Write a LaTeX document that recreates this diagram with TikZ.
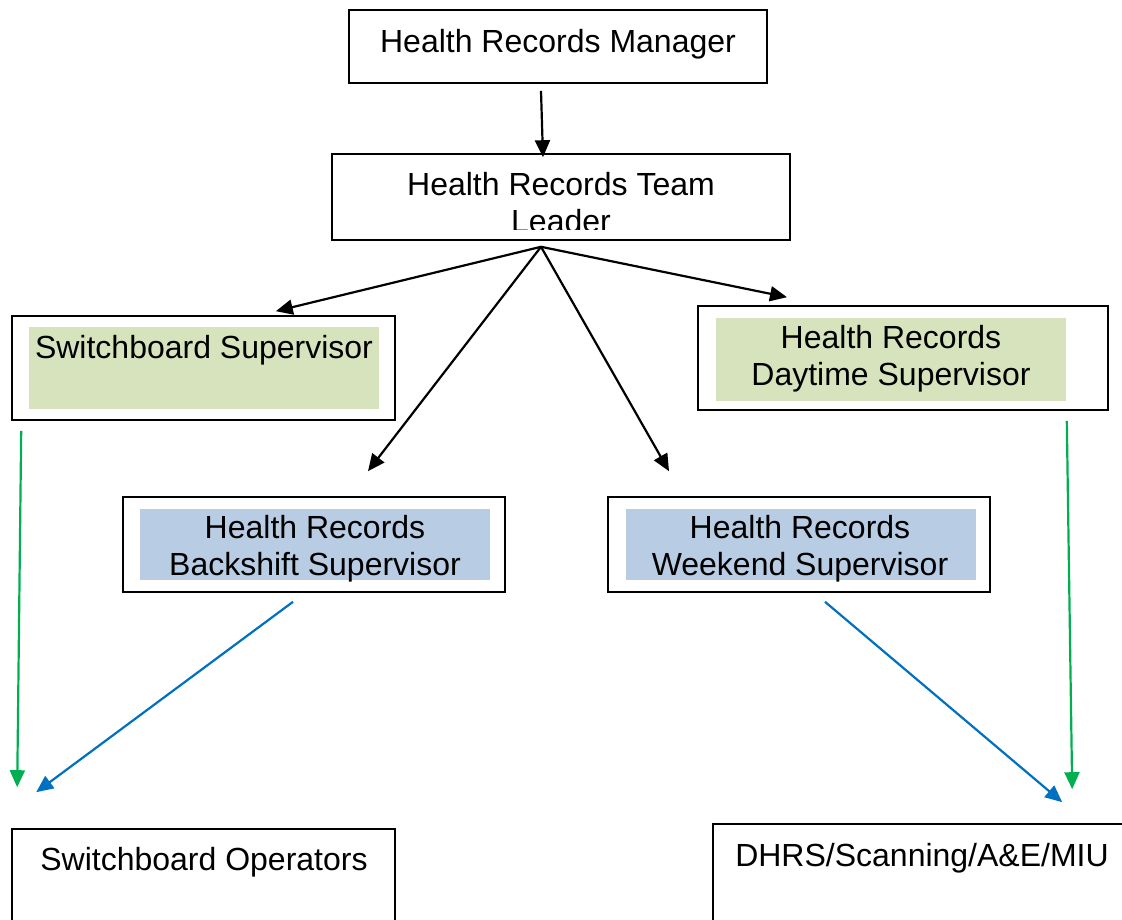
\documentclass[tikz,border=0pt]{standalone}
\usepackage{fontspec}
\setmainfont{Liberation Sans}
\usetikzlibrary{arrows.meta}
\definecolor{supgreen}{HTML}{D6E3BC}
\definecolor{supblue}{HTML}{B8CCE4}
\definecolor{lnkgreen}{HTML}{00B050}
\definecolor{lnkblue}{HTML}{0070C0}

\begin{document}
\begin{tikzpicture}[x=1pt, y=-1pt,
        box/.style={draw, line width=1.6pt, inner sep=0pt},
        txt/.style={font=\fontsize{32}{37}\selectfont, align=center, inner sep=0pt},
        arr/.style={line width=2.2pt, -{Triangle[length=17pt,width=15pt]}}]
        \clip (0,0) rectangle (1122,920);

        % boxes
        \node[box, minimum width=418pt, minimum height=73pt] (mgr) at (558,46.5) {};
        \node[box, minimum width=458pt, minimum height=86pt] (lead) at (561,197) {};
        \node[box, minimum width=383pt, minimum height=104pt] (swsup) at (203.5,368) {};
        \node[box, minimum width=410pt, minimum height=104pt] (daysup) at (903,358) {};
        \node[box, minimum width=382pt, minimum height=95pt] (backsup) at (314,544.5) {};
        \node[box, minimum width=382pt, minimum height=95pt] (wkndsup) at (799,544.5) {};
        \node[box, minimum width=383pt, minimum height=131pt] (swops) at (203.5,894.5) {};
        \node[box, minimum width=447pt, minimum height=136pt] (dhrs) at (936.5,892) {};

        % shaded panels
        \fill[supgreen] (29,327) rectangle (379,409);
        \fill[supgreen] (716,318) rectangle (1066,401);
        \fill[supblue] (140,509) rectangle (490,580);
        \fill[supblue] (626,509) rectangle (976,580);

        % labels
        \node[txt] (mgrtxt) at (558,44) {Health Records Manager};
        \begin{scope}
            \clip (332,154) rectangle (790,230);
            \node[txt] (leadtxt) at (561,203) {Health Records Team\\Leader};
        \end{scope}
        \node[txt] (swsuptxt) at (204,350) {Switchboard Supervisor};
        \node[txt] (daysuptxt) at (891,358.5) {Health Records\\Daytime Supervisor};
        \node[txt] (backsuptxt) at (315,549) {Health Records\\Backshift Supervisor};
        \node[txt] (wkndsuptxt) at (800,549) {Health Records\\Weekend Supervisor};
        \node[txt] (swopstxt) at (204,862) {Switchboard Operators};
        \node[txt] (dhrstxt) at (922,858) {DHRS/Scanning/A\&E/MIU};

        % connectors
        \coordinate (hub) at ([xshift=-20pt,yshift=-6pt]lead.south);
        \draw[arr] ([xshift=-17pt,yshift=-7pt]mgr.south) -- ([xshift=-18pt,yshift=-4pt]lead.north);
        \draw[arr] (hub) -- ([xshift=-120pt,yshift=4pt]swsup.north east);
        \draw[arr] (hub) -- ([xshift=54pt,yshift=25pt]backsup.north);
        \draw[arr] (hub) -- ([xshift=-130pt,yshift=25pt]wkndsup.north);
        \draw[arr] (hub) -- ([xshift=-116pt,yshift=8pt]daysup.north);

        \draw[arr, lnkgreen] ([xshift=10pt,yshift=-10pt]swsup.south west) -- ([xshift=6pt,yshift=41pt]swops.north west);
        \draw[arr, lnkgreen] ([xshift=-42pt,yshift=-10pt]daysup.south east) -- ([xshift=360pt,yshift=34pt]dhrs.north west);
        \draw[arr, lnkblue] ([xshift=-21pt,yshift=-9pt]backsup.south) -- ([xshift=25pt,yshift=36pt]swops.north west);
        \draw[arr, lnkblue] ([xshift=26pt,yshift=-9pt]wkndsup.south) -- ([xshift=350pt,yshift=21pt]dhrs.north west);
\end{tikzpicture}
\end{document}
